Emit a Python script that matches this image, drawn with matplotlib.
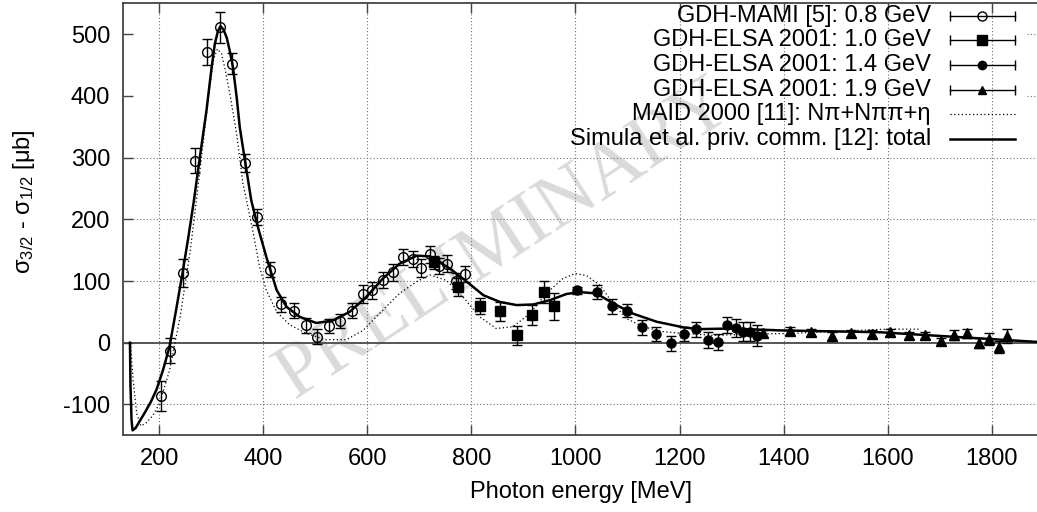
import matplotlib
matplotlib.use("Agg")
import matplotlib.pyplot as plt

plt.rcParams['font.family'] = ['Liberation Sans', 'DejaVu Sans']
plt.rcParams['mathtext.fontset'] = 'custom'
plt.rcParams['mathtext.rm'] = 'Liberation Sans'
plt.rcParams['mathtext.it'] = 'Liberation Sans:italic'
plt.rcParams['mathtext.default'] = 'regular'
plt.rcParams['axes.unicode_minus'] = False

# GDH-MAMI 0.8 GeV
mami_e = [203, 220, 245, 269, 292, 317, 341, 365, 389, 413, 435, 459, 482, 504, 526,
          547, 570, 591, 610, 630, 650, 668, 687, 704, 720, 737, 754, 771, 787]
mami_v = [-86, -13, 113, 295, 471, 511, 452, 291, 204, 118, 62, 52, 28, 10, 27,
          35, 52, 79, 85, 101, 114, 139, 136, 121, 143, 125, 128, 100, 112]
mami_err = [24, 20, 23, 20, 21, 25, 17, 14, 13, 12, 12, 12, 12, 12, 12,
            11, 12, 14, 14, 13, 14, 13, 13, 14, 14, 13, 14, 13, 13]

# GDH-ELSA 2001 1.0 GeV
e10_e = [729, 775, 816, 855, 887, 916, 939, 958]
e10_v = [130, 90, 60, 51, 12, 45, 82, 59]
e10_err = [10, 15, 13, 15, 15, 16, 18, 22]

# GDH-ELSA 2001 1.4 GeV
e14_e = [1002, 1042, 1070, 1099, 1127, 1155, 1183, 1208, 1231, 1254, 1273, 1292, 1308, 1322, 1336, 1349]
e14_v = [85, 82, 59, 52, 25, 14, -1, 14, 22, 4, 1, 28, 24, 18, 18, 11]
e14_err = [6, 11, 12, 11, 12, 11, 12, 12, 12, 13, 13, 13, 14, 15, 16, 17]

# GDH-ELSA 2001 1.9 GeV
e19_e = [1361, 1413, 1452, 1492, 1530, 1569, 1605, 1640, 1672, 1702, 1728, 1753, 1775, 1795, 1813, 1830]
e19_v = [15, 19, 17, 11, 15, 14, 17, 12, 12, 2, 13, 15, 0, 6, -7, 11]
e19_err = [5, 6, 6, 6, 6, 6, 6, 6, 6, 6, 8, 8, 8, 9, 9, 11]

# MAID 2000 (dotted)
maid_e = [145, 150, 157, 165, 175, 188, 201, 220, 240, 260, 280, 295, 305, 312, 320, 326, 336,
          349, 361, 368, 381, 393, 406, 426, 451, 483, 520, 560, 592, 630, 662, 695, 720, 752,
          784, 816, 848, 880, 912, 944, 976, 999, 1021, 1047, 1072, 1098, 1130, 1168, 1207,
          1265, 1344, 1412, 1489, 1598, 1662]
maid_v = [0, -60, -115, -135, -130, -118, -98, -45, 40, 150, 290, 400, 460, 476, 468, 446, 403,
          338, 258, 231, 177, 123, 85, 50, 29, 15, 5, 5, 20, 53, 80, 99, 110, 101,
          74, 42, 23, 26, 47, 80, 104, 112, 109, 93, 64, 39, 26, 18, 15,
          12, 14, 15, 18, 22, 22]

# Simula et al. total (solid)
simula_e = [144, 145, 147, 149, 155, 162, 172, 184, 195, 208, 220, 232, 245, 256, 267, 279, 291,
            300, 307, 313, 318, 324, 330, 336, 342, 349, 355, 365, 377, 389, 406, 426, 445, 470,
            502, 534, 566, 598, 630, 662, 695, 720, 759, 791, 823, 855, 887, 919, 951, 983, 1008,
            1040, 1072, 1111, 1156, 1207, 1236, 1297, 1393, 1585, 1777, 1893]
simula_v = [0, -70, -125, -142, -138, -128, -114, -96, -76, -43, -6, 50, 113, 170, 231, 305, 376,
            440, 484, 505, 513, 507, 494, 472, 446, 398, 349, 295, 231, 190, 139, 85, 58, 42,
            32, 36, 50, 74, 104, 128, 141, 140, 120, 99, 77, 66, 61, 62, 69, 79, 82,
            80, 64, 47, 34, 25, 22, 23, 20, 17, 7, 1]

xticks = [200, 400, 600, 800, 1000, 1200, 1400, 1600, 1800]
yticks = [-100, 0, 100, 200, 300, 400, 500]

fig = plt.figure(figsize=(10.37, 5.12), dpi=100)
ax = fig.add_axes([0.1183, 0.1498, 0.8848, 0.8438])
ax.set_xlim(130, 1893)
ax.set_ylim(-150, 550)

FS = 17
gcol = '#707070'

# grid (the key hides the upper horizontal lines in the original)
for x in xticks:
    ax.axvline(x, color=gcol, lw=0.8, ls=(0, (1, 2)), zorder=0.5)
for y in yticks:
    if y == 0:
        continue
    if y >= 400:
        ax.plot([1868, 1893], [y, y], color=gcol, lw=0.8, ls=(0, (1, 2)), zorder=0.5)
    else:
        ax.axhline(y, color=gcol, lw=0.8, ls=(0, (1, 2)), zorder=0.5)
ax.axhline(0, color='#555555', lw=1.4, zorder=0.6)

ax.text(864, 166, 'PRELIMINARY', rotation=33, rotation_mode='anchor', fontsize=56,
        family='Liberation Serif', color='#dadada', ha='center', va='center', zorder=0.2)

ax.plot(maid_e, maid_v, color='black', lw=0.9, ls=(0, (1, 2)), zorder=2)
ax.plot(simula_e, simula_v, color='black', lw=1.8, zorder=3)

eb = dict(ls='none', ecolor='black', elinewidth=1.0, capsize=3.6, capthick=1.0, zorder=4)
ax.errorbar(mami_e, mami_v, yerr=mami_err, marker='o', ms=7, mfc='none', mec='black', mew=1.0, **eb)
ax.errorbar(e10_e, e10_v, yerr=e10_err, marker='s', ms=7, mfc='black', mec='black', **eb)
ax.errorbar(e14_e, e14_v, yerr=e14_err, marker='o', ms=6.5, mfc='black', mec='black', **eb)
ax.errorbar(e19_e, e19_v, yerr=e19_err, marker='^', ms=6.5, mfc='black', mec='black', **eb)

# key, drawn by hand to get the gnuplot look
labels = ['GDH-MAMI [5]: 0.8 GeV', 'GDH-ELSA 2001: 1.0 GeV', 'GDH-ELSA 2001: 1.4 GeV',
          'GDH-ELSA 2001: 1.9 GeV', 'MAID 2000 [11]: N\u03c0+N\u03c0\u03c0+\u03b7',
          'Simula et al. priv. comm. [12]: total']
row_y = [530, 490, 450, 410, 370, 330]
txt_x, s0, s1 = 1683, 1719, 1844
sm = (s0 + s1) / 2
styles = [('o', 'none', 6.5), ('s', 'black', 7), ('o', 'black', 6), ('^', 'black', 6)]
for i, lab in enumerate(labels):
    y = row_y[i]
    ax.text(txt_x, y, lab, ha='right', va='center', fontsize=FS, zorder=5)
    if i < 4:
        m, fc, ms = styles[i]
        ax.plot([s0, s1], [y, y], color='black', lw=1.0, zorder=5)
        ax.plot([s0, s1], [y, y], ls='none', marker='|', ms=7, mew=1.0, color='black', zorder=5)
        ax.plot([sm], [y], marker=m, ms=ms, mfc=fc, mec='black', mew=1.0, zorder=6)
    elif i == 4:
        ax.plot([s0, s1], [y, y], color='black', lw=0.9, ls=(0, (1, 2)), zorder=5)
    else:
        ax.plot([s0, s1], [y, y], color='black', lw=1.8, zorder=5)

ax.set_xticks(xticks)
ax.set_yticks(yticks)
ax.tick_params(direction='in', length=7, width=1, color='#444444', labelsize=FS,
               top=True, right=False, pad=9)
for s in ax.spines.values():
    s.set_color('#444444')
    s.set_linewidth(1.3)
ax.spines['right'].set_visible(False)

ax.set_xlabel('Photon energy [MeV]', fontsize=FS, labelpad=8)
ax.set_ylabel('σ$_{3/2}$ - σ$_{1/2}$ [μb]', fontsize=FS)
ax.yaxis.set_label_coords(-0.093, 0.54)

fig.savefig('out.png', dpi=100)
